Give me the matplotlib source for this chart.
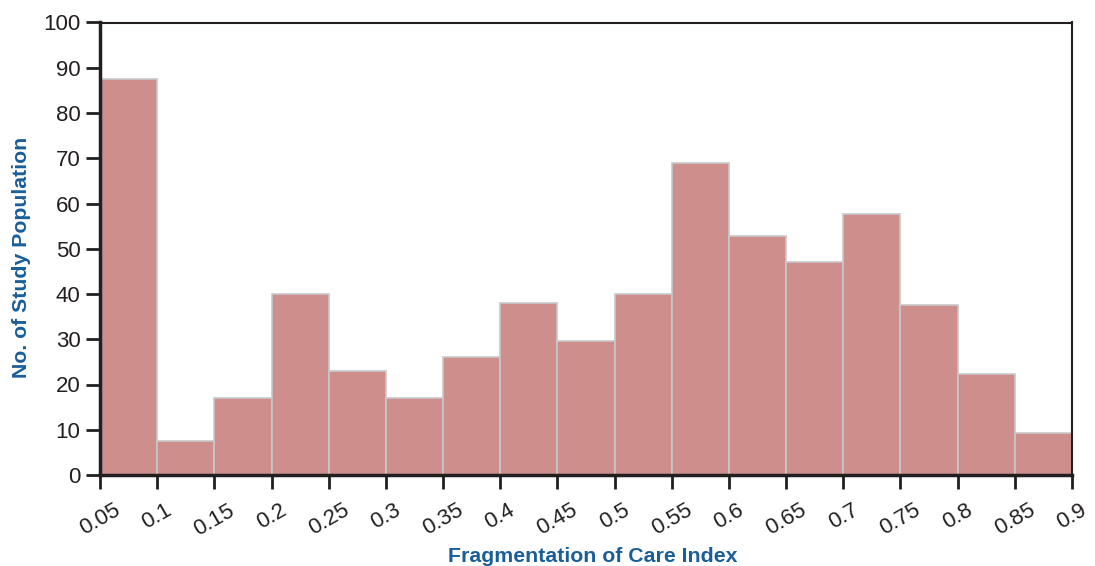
import matplotlib
matplotlib.use("Agg")
import matplotlib.pyplot as plt
import matplotlib.transforms as mtransforms
import numpy as np

plt.rcParams['font.family'] = ['Liberation Sans', 'DejaVu Sans']

bin_edges = [0.05, 0.1, 0.15, 0.2, 0.25, 0.3, 0.35, 0.4, 0.45, 0.5,
             0.55, 0.6, 0.65, 0.7, 0.75, 0.8, 0.85, 0.9]
counts = [87.5, 7.5, 17, 40, 23, 17, 26, 38, 29.7, 40,
          69, 52.8, 47, 57.6, 37.6, 22.3, 9.2]
tick_labels = ["0.05", "0.1", "0.15", "0.2", "0.25", "0.3", "0.35", "0.4", "0.45",
               "0.5", "0.55", "0.6", "0.65", "0.7", "0.75", "0.8", "0.85", "0.9"]
y_ticks = [0, 10, 20, 30, 40, 50, 60, 70, 80, 90, 100]

fig = plt.figure(figsize=(10.95, 5.66), dpi=100)
ax = fig.add_axes([100/1095, 91/566, 972/1095, 452.5/566])

lefts = bin_edges[:-1]
widths = np.diff(bin_edges)
ax.bar(lefts, counts, width=widths, align='edge', color='#CE8F8C',
       edgecolor='#C8C8CA', linewidth=1.2)

ax.set_xlim(0.05, 0.9)
ax.set_ylim(0, 100)
ax.set_xticks(bin_edges)
ax.set_xticklabels(tick_labels, rotation=30, ha='center', va='top',
                   fontsize=16, color='#231F20')
offset = mtransforms.ScaledTranslation(5/100, 0, fig.dpi_scale_trans)
for lbl in ax.get_xticklabels():
    lbl.set_transform(lbl.get_transform() + offset)
ax.set_yticks(y_ticks)
ax.set_yticklabels([str(v) for v in y_ticks], fontsize=16, color='#231F20')
ax.tick_params(axis='both', direction='out', length=10, width=2, color='#231F20', pad=4)
ax.tick_params(axis='x', pad=8)
for s in ax.spines.values():
    s.set_linewidth(1.5)
    s.set_color('#231F20')
ax.spines['left'].set_linewidth(2.5)
ax.spines['bottom'].set_linewidth(2.5)

fig.text(593/1095, 1 - 556/566, "Fragmentation of Care Index", ha='center', va='center',
         fontsize=15.3, fontweight='bold', color='#1A5E99')
fig.text(22/1095, 1 - 257/566, "No. of Study Population", ha='center', va='center',
         rotation=90, fontsize=15.3, fontweight='bold', color='#1A5E99')

fig.savefig("out.png", dpi=100)
